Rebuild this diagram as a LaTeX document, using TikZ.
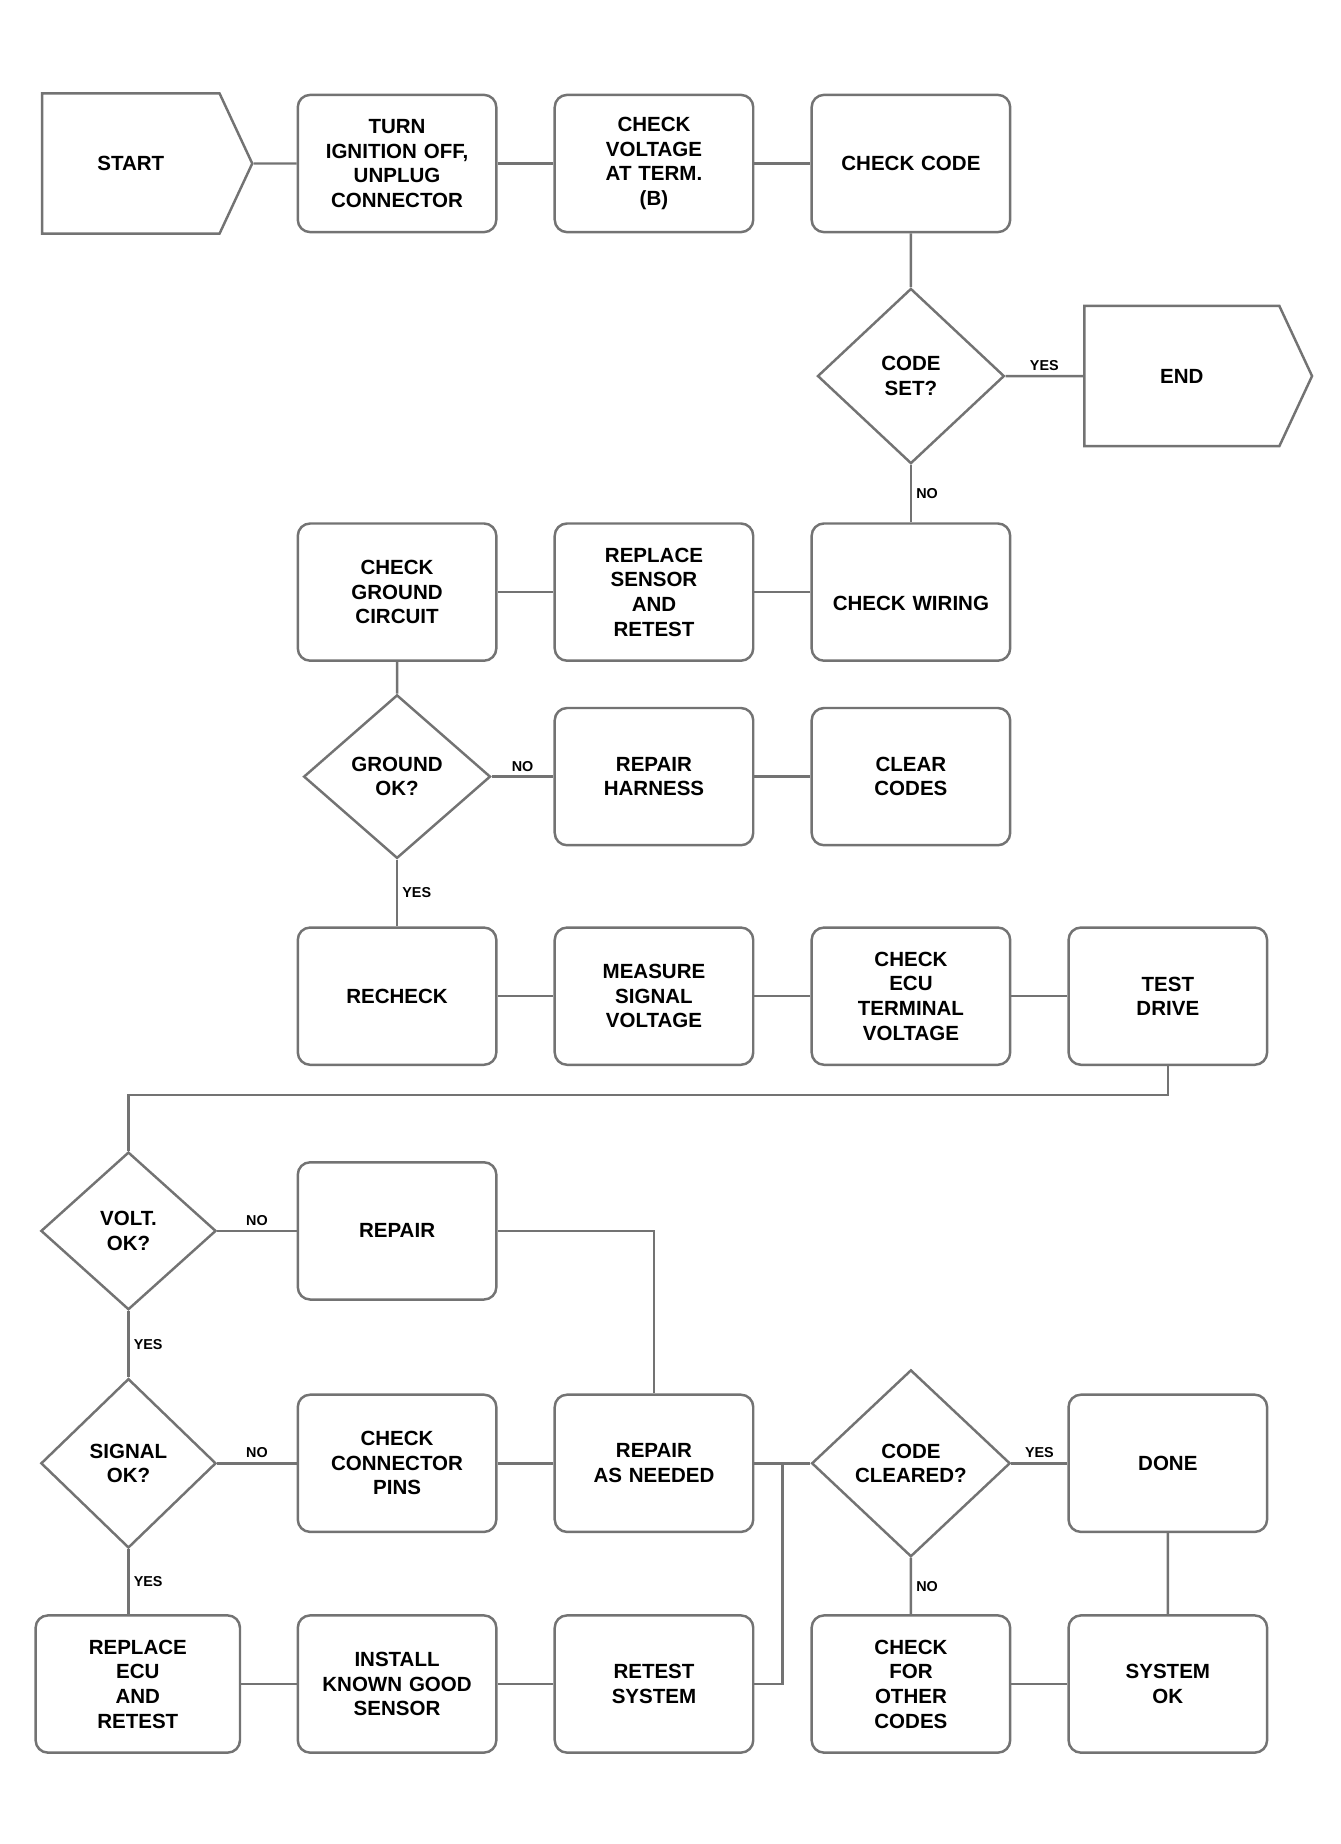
\documentclass[tikz,border=0pt]{standalone}
\usepackage{fontspec}
\setmainfont{Liberation Sans}
\usepackage{tikz}
\usetikzlibrary{shapes.geometric, shapes.symbols, positioning, calc}
\tikzstyle{line} = [draw=black!55, line width=1.2pt]
\tikzstyle{box} = [draw=black!55, line width=1.2pt, rounded corners=6pt, minimum width=34mm, minimum height=23.5mm, text width=30mm, align=center, font=\bfseries]
\tikzstyle{choice} = [draw=black!55, line width=1.2pt, diamond, minimum width=32mm, minimum height=30mm, inner sep=0pt, align=center, font=\bfseries]
\tikzstyle{term} = [draw=black!55, line width=1.2pt, signal, signal to=east, signal pointer angle=130, minimum width=36mm, minimum height=24mm, font=\bfseries]
\tikzstyle{lbl} = [font=\scriptsize\bfseries, inner sep=2pt]

\begin{document}
\begin{tikzpicture}[x=0.2mm,y=-0.2mm,node distance=44mm,font=\fontsize{10}{12}\selectfont]
    \useasboundingbox (0,0) rectangle (1148,1579);

    % row 1
    \node[term] (start) at (112,140) {START};
    \node[box] (disc) at (340,140) {TURN\\IGNITION OFF,\\UNPLUG\\CONNECTOR};
    \node[box, right of=disc] (chk) {CHECK\\VOLTAGE\\AT TERM.\\(B)};
    \node[box, right of=chk] (meas) {CHECK CODE\\[6mm]};

    % row 2
    \node[choice] (ok1) at (780,322) {CODE\\SET?};
    \node[term, minimum width=39mm] (end) at (1012,322) {END};

    % row 3
    \node[box] (wire) at (780,507) {\\[2mm]CHECK WIRING};
    \node[box, left of=wire] (sens) {REPLACE\\SENSOR\\AND\\RETEST};
    \node[box, left of=sens] (gnd) {CHECK\\GROUND\\CIRCUIT};

    % row 4
    \node[choice, minimum height=28mm] (ok2) at (340,665) {GROUND\\OK?};
    \node[box, right of=ok2] (harn) {REPAIR\\HARNESS};
    \node[box, right of=harn] (again) {CLEAR\\CODES\\[6mm]};

    % row 5
    \node[box] (rchk) at (340,853) {RECHECK\\[8mm]};
    \node[box, right of=rchk] (volt) {MEASURE\\SIGNAL\\VOLTAGE};
    \node[box, right of=volt] (ecu) {CHECK\\ECU\\TERMINAL\\VOLTAGE};
    \node[box, right of=ecu] (clr) {TEST\\DRIVE};

    % row 6
    \node[choice, minimum width=30mm, minimum height=27mm] (ok3) at (110,1054) {VOLT.\\OK?};
    \node[box] (rep) at (340,1054) {REPAIR};

    % row 7
    \node[choice, minimum width=30mm, minimum height=29mm] (ok4) at (110,1253) {SIGNAL\\OK?};
    \node[box] (conn) at (340,1253) {CHECK\\CONNECTOR\\PINS};
    \node[box, right of=conn] (fix) {REPAIR\\AS NEEDED};
    \node[choice, minimum width=34mm, minimum height=32mm] (ok5) at (780,1253) {CODE\\CLEARED?};
    \node[box] (fin) at (1000,1253) {DONE};

    % row 8
    \node[box, minimum width=35mm] (sub) at (118,1442) {REPLACE\\ECU\\AND\\RETEST};
    \node[box] (inst) at (340,1442) {INSTALL\\KNOWN GOOD\\SENSOR};
    \node[box, right of=inst] (retest) {RETEST\\SYSTEM};
    \node[box, right of=retest] (unit) {CHECK\\FOR\\OTHER\\CODES};
    \node[box, right of=unit] (done) {SYSTEM\\OK};

    \coordinate (join) at ($(fix.east)!0.5!(ok5.west)$);

    \draw[line] (start) -- (disc);
    \draw[line] (disc) -- (chk);
    \draw[line] (chk) -- (meas);
    \draw[line] (meas) -- (ok1);
    \draw[line] (ok1) -- node[lbl, above] {YES} (end);
    \draw[line] (ok1) -- node[lbl, right] {NO} (wire);
    \draw[line] (wire) -- (sens);
    \draw[line] (sens) -- (gnd);
    \draw[line] (gnd) -- (ok2);
    \draw[line] (ok2) -- node[lbl, above] {NO} (harn);
    \draw[line] (harn) -- (again);
    \draw[line] (ok2) -- node[lbl, right] {YES} (rchk);
    \draw[line] (rchk) -- (volt);
    \draw[line] (volt) -- (ecu);
    \draw[line] (ecu) -- (clr);
    \draw[line] (clr.south) -- ++(0,25) -| (ok3.north);
    \draw[line] (ok3) -- node[lbl, above] {NO} (rep);
    \draw[line] (rep.east) -| (fix.north);
    \draw[line] (ok3) -- node[lbl, right] {YES} (ok4);
    \draw[line] (ok4) -- node[lbl, above] {NO} (conn);
    \draw[line] (conn) -- (fix);
    \draw[line] (fix) -- (ok5);
    \draw[line] (ok5) -- node[lbl, above] {YES} (fin);
    \draw[line] (ok5) -- node[lbl, right] {NO} (unit);
    \draw[line] (fin) -- (done);
    \draw[line] (unit) -- (done);
    \draw[line] (ok4.south) -- node[lbl, right] {YES} (ok4.south |- sub.north);
    \draw[line] (sub) -- (inst);
    \draw[line] (inst) -- (retest);
    \draw[line] (retest.east) -| (join);
\end{tikzpicture}
\end{document}
